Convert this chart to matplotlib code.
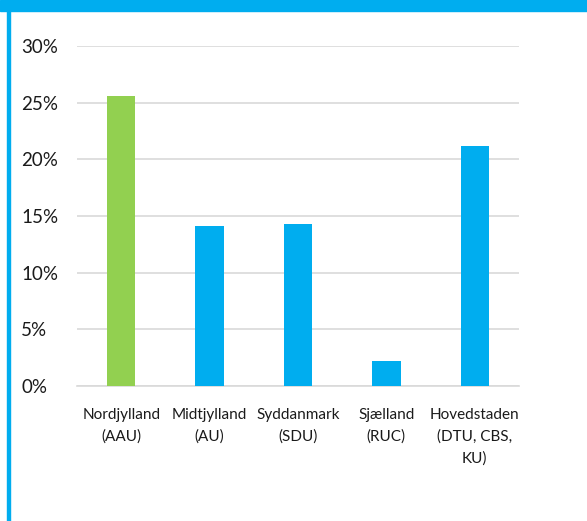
import matplotlib
matplotlib.use("Agg")
import matplotlib.pyplot as plt
from matplotlib.patches import Rectangle
from matplotlib.transforms import blended_transform_factory

categories = ["Nordjylland\n(AAU)", "Midtjylland\n(AU)", "Syddanmark\n(SDU)", "Sjælland\n(RUC)", "Hovedstaden\n(DTU, CBS,\nKU)"]
values = [25.6, 14.1, 14.3, 2.2, 21.2]
colors = ["#92D050", "#00ADEF", "#00ADEF", "#00ADEF", "#00ADEF"]
yticks = [0, 5, 10, 15, 20, 25, 30]
ytick_labels = ["0%", "5%", "10%", "15%", "20%", "25%", "30%"]

plt.rcParams['font.family'] = ['Lato', 'DejaVu Sans']

W, H = 587, 521
fig = plt.figure(figsize=(W/100, H/100), dpi=100)
fig.patch.set_facecolor("white")

# blue frame: top band and left band
fig.patches.append(Rectangle((0, 1 - 11/H), 1, 11/H, transform=fig.transFigure, color="#00ADEF", zorder=0))
fig.patches.append(Rectangle((7/W, 0), 3/W, 1, transform=fig.transFigure, color="#00ADEF", zorder=0))

left, right = 77/W, 519/W
bottom, top = 1 - 386/H, 1 - 46/H
ax = fig.add_axes([left, bottom, right-left, top-bottom])
x = range(len(categories))
ax.bar(x, values, width=0.32, color=colors, zorder=3)
ax.set_xlim(-0.5, len(categories)-0.5)
ax.set_ylim(0, 30)
ax.set_yticks(yticks)
ax.set_yticklabels(ytick_labels, fontsize=13.5, color="#1a1a1a")
ax.set_xticks(list(x))
ax.set_xticklabels(categories, fontsize=11, color="#1a1a1a", linespacing=1.65)
ax.grid(axis="y", color="#D9D9D9", linewidth=1.2, zorder=0)
for s in ["top", "right", "left"]:
    ax.spines[s].set_visible(False)
ax.spines["bottom"].set_color("#D9D9D9")
ax.spines["bottom"].set_linewidth(1.2)
ax.tick_params(axis="both", length=0)
ax.tick_params(axis="x", pad=16)
for lbl in ax.get_yticklabels():
    lbl.set_horizontalalignment("left")
    lbl.set_transform(blended_transform_factory(fig.transFigure, ax.transData))
    lbl.set_x(21/W)
fig.savefig("out.png", dpi=100, facecolor="white")
